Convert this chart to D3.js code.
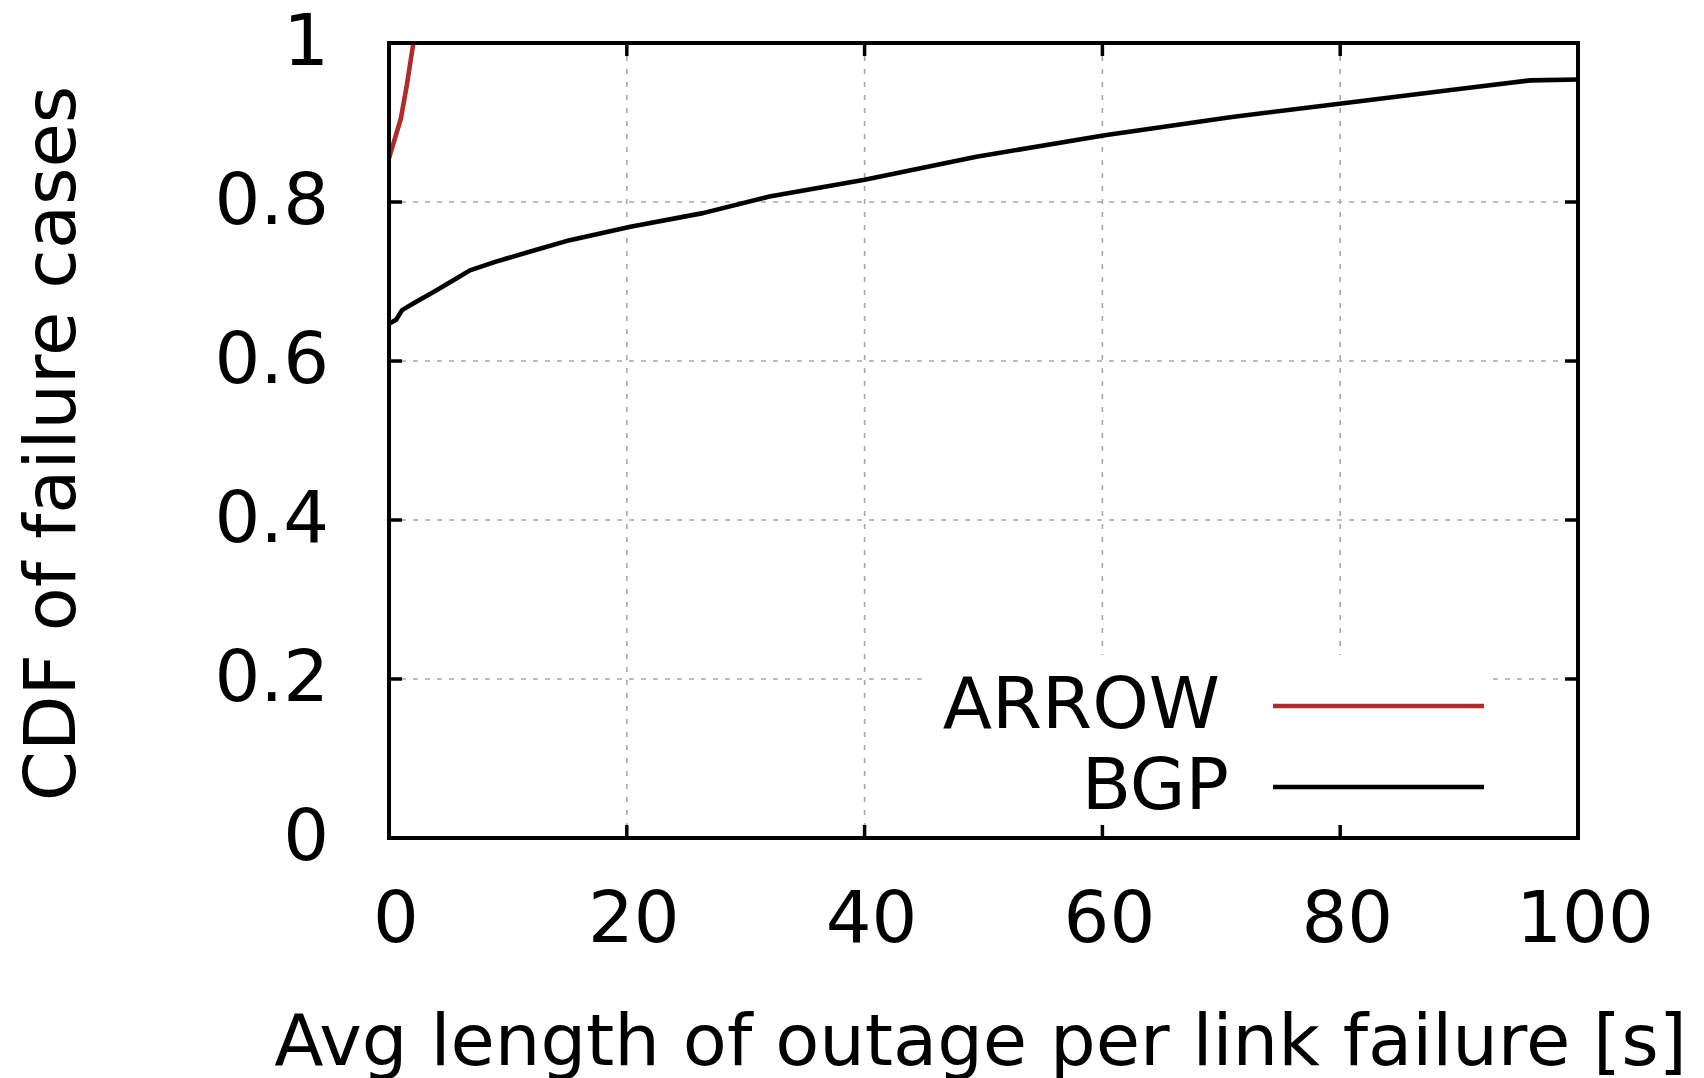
<!DOCTYPE html>
<html>
<head>
<meta charset="utf-8">
<script src="https://cdn.jsdelivr.net/npm/d3@7"></script>
<style>
  html, body { margin: 0; padding: 0; background: #fff; overflow: hidden; }
  svg { display: block; }
  svg text { font-family: "DejaVu Sans", sans-serif; fill: #000; }
</style>
</head>
<body>
<svg id="chart"></svg>
<script>
// ======================
// DATA
// ======================

const bgpX = [0, 0.6, 1.1, 2, 4, 5.7, 6.8, 9, 12.4, 15.2, 20.3, 26.4, 32, 40, 49.4, 60.2, 70.9, 80.1, 90.5, 96, 100];
const bgpY = [0.647, 0.652, 0.664, 0.672, 0.689, 0.704, 0.714, 0.725, 0.740, 0.752, 0.769, 0.786, 0.807, 0.828, 0.857, 0.884, 0.907, 0.924, 0.943, 0.953, 0.954];

const arrowX = [0, 0.5, 1.0, 1.5, 2.05, 2.2];
const arrowY = [0.855, 0.88, 0.905, 0.947, 1.0, 1.01];

const xTicks = [0, 20, 40, 60, 80, 100];
const yTicks = [0, 0.2, 0.4, 0.6, 0.8, 1];

const seriesNames = ["ARROW", "BGP"];
const seriesColors = ["#b22a2a", "#000000"];

// ======================
// CHART SETUP
// ======================

const width = 1704;
const height = 1078;
const margin = { top: 43, right: 126, bottom: 240, left: 389 };
const innerWidth = width - margin.left - margin.right;
const innerHeight = height - margin.top - margin.bottom;
const fontSize = 72;

const svg = d3.select("#chart")
    .attr("width", width)
    .attr("height", height);

const g = svg.append("g")
    .attr("transform", `translate(${margin.left},${margin.top})`);

const xScale = d3.scaleLinear().domain([0, 100]).range([0, innerWidth]);
const yScale = d3.scaleLinear().domain([0, 1]).range([innerHeight, 0]);

g.append("clipPath").attr("id", "plot-clip")
  .append("rect")
    .attr("width", innerWidth)
    .attr("height", innerHeight);

// Grid lines (dotted gray)
const gridG = g.append("g").attr("class", "grid");
gridG.selectAll(".vgrid")
    .data(xTicks.filter(t => t > 0 && t < 100))
    .enter().append("line")
    .attr("x1", d => xScale(d)).attr("x2", d => xScale(d))
    .attr("y1", 0).attr("y2", innerHeight)
    .attr("stroke", "#a8a8a8")
    .attr("stroke-width", 1.6)
    .attr("stroke-dasharray", "5,8");
gridG.selectAll(".hgrid")
    .data(yTicks.filter(t => t > 0 && t < 1))
    .enter().append("line")
    .attr("x1", 0).attr("x2", innerWidth)
    .attr("y1", d => yScale(d)).attr("y2", d => yScale(d))
    .attr("stroke", "#a8a8a8")
    .attr("stroke-width", 1.6)
    .attr("stroke-dasharray", "5,7");

// Legend background hides the grid behind it
const legendG = g.append("g").attr("class", "legend");
legendG.append("rect")
    .attr("x", 540).attr("y", 612)
    .attr("width", 560).attr("height", 180)
    .attr("fill", "#fff");

// ======================
// LINES
// ======================

const line = d3.line()
    .x(d => xScale(d[0]))
    .y(d => yScale(d[1]));

const series = [
    d3.zip(arrowX, arrowY),
    d3.zip(bgpX, bgpY)
];

g.append("g")
    .attr("clip-path", "url(#plot-clip)")
  .selectAll("path")
    .data(series)
    .enter().append("path")
    .attr("d", line)
    .attr("fill", "none")
    .attr("stroke", (d, i) => seriesColors[i])
    .attr("stroke-width", 4.6)
    .attr("stroke-linejoin", "round");

// ======================
// AXES
// ======================

// Border box
g.append("rect")
    .attr("width", innerWidth)
    .attr("height", innerHeight)
    .attr("fill", "none")
    .attr("stroke", "#000")
    .attr("stroke-width", 4);

// Inward ticks on all four sides
const tickLen = 13;
const tickG = g.append("g").attr("stroke", "#000").attr("stroke-width", 3.5);
xTicks.filter(t => t > 0 && t < 100).forEach(t => {
    tickG.append("line")
        .attr("x1", xScale(t)).attr("x2", xScale(t))
        .attr("y1", innerHeight).attr("y2", innerHeight - tickLen);
    tickG.append("line")
        .attr("x1", xScale(t)).attr("x2", xScale(t))
        .attr("y1", 0).attr("y2", tickLen);
});
yTicks.filter(t => t > 0 && t < 1).forEach(t => {
    tickG.append("line")
        .attr("x1", 0).attr("x2", tickLen)
        .attr("y1", yScale(t)).attr("y2", yScale(t));
    tickG.append("line")
        .attr("x1", innerWidth).attr("x2", innerWidth - tickLen)
        .attr("y1", yScale(t)).attr("y2", yScale(t));
});

// Tick labels
g.append("g").selectAll("text")
    .data(xTicks)
    .enter().append("text")
    .attr("x", d => xScale(d) + 7)
    .attr("y", innerHeight + 104)
    .attr("text-anchor", "middle")
    .style("font-size", fontSize + "px")
    .text(d => d);

g.append("g").selectAll("text")
    .data(yTicks)
    .enter().append("text")
    .attr("x", -60)
    .attr("y", d => yScale(d) + 22)
    .attr("text-anchor", "end")
    .style("font-size", fontSize + "px")
    .text(d => d);

// Axis titles
svg.append("text")
    .attr("x", margin.left + innerWidth / 2 - 3)
    .attr("y", 1065)
    .attr("text-anchor", "middle")
    .style("font-size", fontSize + "px")
    .text("Avg length of outage per link failure [s]");

svg.append("text")
    .attr("transform", `translate(75,${margin.top + innerHeight / 2 + 3}) rotate(-90)`)
    .attr("text-anchor", "middle")
    .style("font-size", fontSize + "px")
    .text("CDF of failure cases");

// ======================
// LEGEND
// ======================

const legendRows = [
    { name: seriesNames[0], color: seriesColors[0], right: 1220, base: 728, lineY: 706 },
    { name: seriesNames[1], color: seriesColors[1], right: 1229, base: 809, lineY: 787 }
];

legendRows.forEach(r => {
    legendG.append("text")
        .attr("x", r.right - margin.left)
        .attr("y", r.base - margin.top)
        .attr("text-anchor", "end")
        .style("font-size", fontSize + "px")
        .text(r.name);
    legendG.append("line")
        .attr("x1", 1273 - margin.left).attr("x2", 1484 - margin.left)
        .attr("y1", r.lineY - margin.top).attr("y2", r.lineY - margin.top)
        .attr("stroke", r.color)
        .attr("stroke-width", 4.6);
});
</script>
</body>
</html>
